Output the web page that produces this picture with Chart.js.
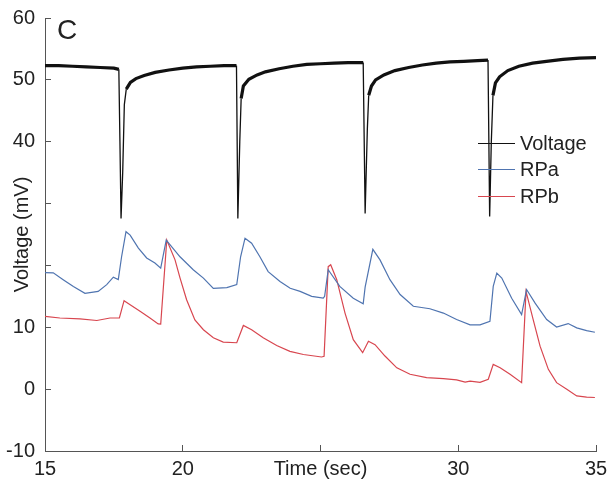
<!DOCTYPE html>
<html>
<head>
<meta charset="utf-8">
<script src="https://cdn.jsdelivr.net/npm/chart.js@4.4.1/dist/chart.umd.min.js"></script>
<style>
  html, body { margin: 0; padding: 0; background: #fff; }
  #wrap { position: relative; width: 612px; height: 489px; }
  #panel {
    position: absolute; left: 57px; top: 16px;
    font: 28px 'Liberation Sans', Arial, sans-serif; line-height: 28px; color: #222;
  }
  #legend {
    position: absolute; left: 478px; top: 130px;
    font: 20px 'Liberation Sans', Arial, sans-serif; color: #222;
  }
  #legend .row { display: flex; align-items: center; height: 26.5px; }
  #legend .swatch { width: 37px; height: 1.2px; margin-right: 5px; }
</style>
</head>
<body>
<div id="wrap">
  <canvas id="chart" width="612" height="489"></canvas>
  <div id="panel">C</div>
  <div id="legend"></div>
</div>
<script>
// membrane voltage trace (sec, mV)
const voltT = [15.0, 15.5, 16.0, 16.5, 17.0, 17.5, 17.68, 17.72, 17.76, 17.82, 17.88, 17.95, 18.1, 18.3, 18.6, 19.0, 19.5, 20.0, 20.5, 21.0, 21.5,
  21.95, 22.0, 22.07, 22.12, 22.2, 22.4, 22.7, 23.0, 23.5, 24.0, 24.5, 25.0, 25.5, 26.0,
  26.55, 26.62, 26.7, 26.75, 26.85, 27.0, 27.3, 27.7, 28.2, 28.7, 29.2, 29.7, 30.2, 30.7,
  31.08, 31.14, 31.2, 31.26, 31.35, 31.5, 31.8, 32.2, 32.7, 33.2, 33.8, 34.4, 35.0];
const voltV = [52.3, 52.3, 52.2, 52.1, 52.0, 51.9, 51.7, 40.0, 27.6, 35.0, 46.0, 48.5, 49.6, 50.2, 50.7, 51.2, 51.6, 51.9, 52.1, 52.2, 52.3,
  52.3, 27.6, 40.0, 47.0, 49.0, 50.1, 50.8, 51.3, 51.8, 52.2, 52.5, 52.6, 52.7, 52.8,
  52.8, 28.4, 42.0, 47.5, 49.0, 50.0, 50.8, 51.5, 52.0, 52.4, 52.7, 52.9, 53.0, 53.1,
  53.2, 27.9, 40.0, 47.5, 49.5, 50.5, 51.5, 52.2, 52.7, 53.0, 53.3, 53.5, 53.6];

// RPa trace
const rpaT = [15.0, 15.3, 15.66, 16.03, 16.45, 16.93, 17.24, 17.48, 17.66, 17.78, 17.94, 18.09, 18.39, 18.69, 18.99, 19.2, 19.4,
  19.9, 20.38, 20.75, 21.11, 21.6, 21.96, 22.1, 22.26, 22.5, 22.8, 23.1, 23.53, 23.9, 24.26, 24.68, 25.1, 25.15,
  25.28, 25.7, 26.19, 26.55, 26.62, 26.9, 27.16, 27.52, 27.89, 28.37, 28.97, 29.46, 29.94, 30.43, 30.79, 31.15,
  31.27, 31.4, 31.58, 31.94, 32.3, 32.48, 32.79, 33.21, 33.57, 33.99, 34.3, 34.66, 34.96];
const rpaV = [18.85, 18.8, 17.7, 16.6, 15.5, 15.8, 16.9, 18.1, 17.7, 21.4, 25.45, 24.9, 22.8, 21.2, 20.4, 19.55, 24.1,
  21.4, 19.3, 17.95, 16.3, 16.4, 16.9, 21.4, 24.4, 23.6, 21.4, 19.0, 17.4, 16.3, 15.8, 15.0, 14.7, 15.0,
  19.3, 16.6, 14.7, 13.8, 16.5, 22.6, 20.9, 17.7, 15.3, 13.4, 13.0, 12.3, 11.25, 10.4, 10.4, 10.95,
  16.6, 18.75, 17.95, 14.7, 12.05, 16.1, 13.9, 11.25, 10.05, 10.6, 9.9, 9.45, 9.2];

// RPb trace
const rpbT = [15.0, 15.54, 16.27, 16.88, 17.36, 17.7, 17.87, 18.09, 18.45, 18.81, 19.11, 19.2, 19.42, 19.72, 19.9, 20.14, 20.44,
  20.75, 21.11, 21.47, 21.96, 22.2, 22.5, 22.92, 23.41, 23.89, 24.38, 25.04, 25.13, 25.28, 25.37, 25.59, 25.89,
  26.19, 26.53, 26.74, 26.98, 27.34, 27.77, 28.25, 28.85, 29.46, 29.94, 30.25, 30.43, 30.79, 31.09, 31.27, 31.52,
  31.88, 32.3, 32.46, 32.72, 32.97, 33.27, 33.57, 33.94, 34.3, 34.66, 34.96];
const rpbV = [11.77, 11.5, 11.35, 11.1, 11.5, 11.5, 14.3, 13.65, 12.6, 11.5, 10.55, 10.5, 24.1, 20.9, 18.0, 14.45, 11.2,
  9.6, 8.3, 7.6, 7.5, 10.3, 9.6, 8.3, 7.05, 6.1, 5.6, 5.2, 5.3, 19.8, 20.1, 17.7, 12.3,
  8.0, 5.9, 7.75, 7.2, 5.35, 3.45, 2.4, 1.85, 1.7, 1.5, 1.15, 1.3, 1.1, 1.6, 4.0, 3.45,
  2.4, 1.05, 15.8, 11.25, 6.95, 3.2, 1.05, 0.0, -1.1, -1.3, -1.35];

const yTicks = [-10, 0, 10, 20, 30, 40, 50, 60];
const yHidden = [20, 30];
const xTicks = [15, 20, 25, 30, 35];
const xTitleAt = 25;

const FONT = "'Liberation Sans', Arial, sans-serif";
const INK = '#222';
const AXIS = '#555';
const COLORS = { volt: '#111111', rpa: '#4f74b0', rpb: '#d8464f' };

function pairs(xs, ys) {
  return xs.map((x, i) => ({ x, y: ys[i] }));
}

const datasets = [
  {
    label: 'Voltage',
    data: pairs(voltT, voltV),
    borderColor: COLORS.volt,
    borderWidth: 3,
    segment: {
      borderWidth: ctx => Math.abs(ctx.p1.parsed.y - ctx.p0.parsed.y) > 2.2 ? 1.3 : 3.2,
    },
  },
  { label: 'RPa', data: pairs(rpaT, rpaV), borderColor: COLORS.rpa, borderWidth: 1.2 },
  { label: 'RPb', data: pairs(rpbT, rpbV), borderColor: COLORS.rpb, borderWidth: 1.2 },
];

const chart = new Chart(document.getElementById('chart'), {
  type: 'line',
  data: {
    datasets: datasets.map(ds => ({ ...ds, pointRadius: 0, tension: 0, fill: false })),
  },
  options: {
    responsive: false,
    animation: false,
    layout: { padding: { top: 18, right: 16, left: 0, bottom: 0 } },
    plugins: { legend: { display: false }, tooltip: { enabled: false } },
    scales: {
      x: {
        type: 'linear',
        min: 15,
        max: 35,
        afterBuildTicks: s => { s.ticks = xTicks.map(v => ({ value: v })); },
        afterFit: s => { s.height = 38; s.paddingLeft = 0; s.paddingRight = 0; },
        grid: { drawOnChartArea: false, drawTicks: true, tickLength: -6, color: AXIS },
        border: { display: true, color: AXIS, width: 1 },
        ticks: {
          padding: 12,
          color: INK,
          font: { family: FONT, size: 20 },
          maxRotation: 0,
          callback: v => (v === xTitleAt ? 'Time (sec)' : v),
        },
      },
      y: {
        min: -10,
        max: 60,
        afterBuildTicks: s => { s.ticks = yTicks.map(v => ({ value: v })); },
        afterFit: s => { s.width = 45; s.paddingTop = 0; s.paddingBottom = 0; },
        grid: { drawOnChartArea: false, drawTicks: true, tickLength: -6, color: AXIS },
        border: { display: true, color: AXIS, width: 1 },
        title: {
          display: true,
          text: 'Voltage (mV)',
          color: INK,
          font: { family: FONT, size: 20 },
          padding: { top: 10, bottom: 0 },
        },
        ticks: {
          padding: 16,
          color: INK,
          font: { family: FONT, size: 20 },
          callback: v => (yHidden.includes(v) ? '' : v),
        },
      },
    },
  },
});

// simple line-sample legend in the upper right of the plot
const legendEl = document.getElementById('legend');
chart.data.datasets.forEach(ds => {
  const row = document.createElement('div');
  row.className = 'row';
  const sw = document.createElement('span');
  sw.className = 'swatch';
  sw.style.background = ds.borderColor;
  const txt = document.createElement('span');
  txt.textContent = ds.label;
  row.appendChild(sw);
  row.appendChild(txt);
  legendEl.appendChild(row);
});
</script>
</body>
</html>
